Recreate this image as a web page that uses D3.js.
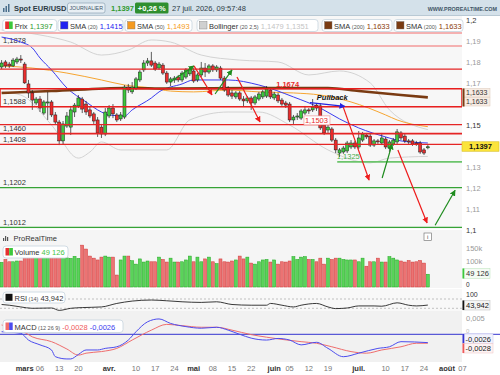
<!DOCTYPE html>
<html>
<head>
<meta charset="utf-8">
<script src="https://cdn.jsdelivr.net/npm/d3@7"></script>
<style>
  body { margin: 0; background: #fff; }
  svg { display: block; font-family: "Liberation Sans", Arial, sans-serif; }
</style>
</head>
<body>
<svg id="chart" width="500" height="375"></svg>
<script>
// ---------- data (daily EUR/USD, first bar = 20 Feb 2026) ----------
const firstDay = "2026-02-20";

const opens = [1.1778,1.1802,1.1792,1.1783,1.1802,1.1816,1.1792,1.1697,1.1654,1.1606,
  1.1625,1.1558,1.1606,1.1611,1.1549,1.1515,1.1425,1.1496,1.1491,1.1563,
  1.1592,1.1625,1.1601,1.1573,1.1554,1.1525,1.1491,1.1458,1.1544,1.1582,
  1.1549,1.1530,1.1539,1.1682,1.1659,1.1678,1.1716,1.1764,1.1797,1.1807,
  1.1797,1.1773,1.1787,1.1749,1.1706,1.1716,1.1730,1.1716,1.1730,1.1745,
  1.1759,1.1716,1.1740,1.1773,1.1754,1.1783,1.1764,1.1773,1.1725,1.1678,
  1.1654,1.1635,1.1654,1.1625,1.1616,1.1630,1.1606,1.1625,1.1635,1.1639,
  1.1668,1.1630,1.1644,1.1620,1.1606,1.1601,1.1525,1.1539,1.1534,1.1558,
  1.1573,1.1573,1.1596,1.1592,1.1501,1.1477,1.1482,1.1429,1.1367,1.1372,
  1.1377,1.1396,1.1415,1.1396,1.1429,1.1453,1.1448,1.1405,1.1425,1.1415,
  1.1434,1.1391,1.1410,1.1420,1.1463,1.1448,1.1425,1.1425,1.1415,1.1415,
  1.1382,1.1392];
const highs = [1.1811,1.1811,1.1802,1.1821,1.1826,1.1835,1.1802,1.1716,1.1668,1.1635,
  1.1639,1.1620,1.1659,1.1620,1.1563,1.1525,1.1520,1.1563,1.1592,1.1606,
  1.1644,1.1635,1.1616,1.1587,1.1563,1.1539,1.1506,1.1582,1.1596,1.1601,
  1.1558,1.1563,1.1692,1.1697,1.1706,1.1730,1.1764,1.1811,1.1821,1.1850,
  1.1807,1.1802,1.1797,1.1759,1.1730,1.1735,1.1740,1.1759,1.1773,1.1778,
  1.1773,1.1749,1.1802,1.1797,1.1792,1.1792,1.1787,1.1783,1.1735,1.1687,
  1.1668,1.1663,1.1663,1.1639,1.1639,1.1639,1.1644,1.1659,1.1668,1.1687,
  1.1678,1.1659,1.1654,1.1630,1.1616,1.1611,1.1549,1.1558,1.1577,1.1592,
  1.1582,1.1625,1.1606,1.1606,1.1515,1.1506,1.1491,1.1439,1.1391,1.1401,
  1.1425,1.1429,1.1425,1.1472,1.1468,1.1463,1.1458,1.1434,1.1434,1.1463,
  1.1444,1.1429,1.1439,1.1482,1.1472,1.1458,1.1434,1.1434,1.1425,1.1425,
  1.1391,1.1405];
const lows = [1.1768,1.1773,1.1773,1.1778,1.1792,1.1797,1.1697,1.1630,1.1573,1.1596,
  1.1563,1.1549,1.1525,1.1539,1.1501,1.1405,1.1410,1.1487,1.1453,1.1539,
  1.1582,1.1558,1.1549,1.1534,1.1506,1.1444,1.1439,1.1448,1.1534,1.1534,
  1.1515,1.1520,1.1530,1.1654,1.1649,1.1668,1.1706,1.1754,1.1783,1.1778,
  1.1759,1.1764,1.1740,1.1697,1.1687,1.1702,1.1706,1.1706,1.1721,1.1735,
  1.1702,1.1706,1.1730,1.1730,1.1745,1.1754,1.1754,1.1716,1.1659,1.1635,
  1.1625,1.1625,1.1616,1.1587,1.1606,1.1573,1.1596,1.1616,1.1625,1.1630,
  1.1625,1.1620,1.1606,1.1592,1.1582,1.1515,1.1506,1.1525,1.1525,1.1549,
  1.1554,1.1563,1.1568,1.1477,1.1453,1.1463,1.1420,1.1367,1.1348,1.1363,
  1.1367,1.1386,1.1386,1.1386,1.1420,1.1434,1.1396,1.1396,1.1410,1.1405,
  1.1386,1.1372,1.1401,1.1410,1.1429,1.1415,1.1410,1.1401,1.1401,1.1363,
  1.1358,1.1385];
const closes = [1.1797,1.1783,1.1783,1.1811,1.1816,1.1811,1.1702,1.1654,1.1620,1.1625,
  1.1582,1.1611,1.1611,1.1549,1.1515,1.1425,1.1506,1.1544,1.1573,1.1596,
  1.1630,1.1577,1.1563,1.1544,1.1520,1.1463,1.1458,1.1563,1.1582,1.1554,
  1.1525,1.1549,1.1682,1.1668,1.1682,1.1721,1.1754,1.1797,1.1807,1.1787,
  1.1768,1.1792,1.1749,1.1706,1.1721,1.1725,1.1716,1.1749,1.1764,1.1764,
  1.1711,1.1740,1.1773,1.1754,1.1783,1.1764,1.1778,1.1725,1.1668,1.1644,
  1.1639,1.1654,1.1625,1.1616,1.1630,1.1606,1.1635,1.1649,1.1659,1.1673,
  1.1635,1.1649,1.1616,1.1601,1.1596,1.1525,1.1539,1.1544,1.1568,1.1573,
  1.1568,1.1587,1.1582,1.1487,1.1463,1.1491,1.1429,1.1382,1.1382,1.1391,
  1.1415,1.1415,1.1396,1.1439,1.1458,1.1444,1.1405,1.1425,1.1420,1.1439,
  1.1396,1.1420,1.1429,1.1468,1.1439,1.1425,1.1420,1.1410,1.1410,1.1372,
  1.1367,1.1397];
const volumes = [95000,106000,97000,97000,100000,100000,135000,125000,130000,120000,
  125000,130000,120000,125000,130000,140000,128000,112000,110000,118000,
  110000,161000,146000,119000,111000,104000,115000,119000,115000,115000,
  46000,104000,119000,119000,101000,88000,108000,96000,100000,97000,
  97000,115000,106000,96000,111000,96000,96000,97000,104000,119000,
  97000,115000,97000,108000,115000,97000,90000,108000,97000,96000,
  100000,104000,119000,108000,115000,92000,88000,97000,104000,106000,
  96000,104000,88000,97000,96000,100000,117000,106000,115000,117000,
  106000,106000,97000,111000,88000,111000,106000,111000,111000,106000,
  104000,104000,104000,97000,111000,80000,97000,97000,111000,96000,
  96000,117000,111000,104000,100000,96000,102000,96000,97000,102000,
  92000,49126];

// indicator curves: [bar index, value]
const sma20 = [[0,1.1921],[5,1.1897],[8,1.1869],[10,1.1821],[13,1.1764],[17,1.1678],[22,1.1611],
  [26,1.1563],[28,1.1549],[32,1.1544],[34,1.1573],[39,1.1630],[41,1.1659],[47,1.1697],[50,1.1716],
  [59,1.1716],[67,1.1692],[76,1.1635],[83,1.1582],[88,1.1530],[93,1.1487],[100,1.1444],[104,1.1425],[111,1.1415]];
const sma50 = [[0,1.1783],[8,1.1773],[17,1.1749],[26,1.1716],[32,1.1692],[39,1.1678],[44,1.1663],
  [50,1.1659],[59,1.1668],[67,1.1659],[76,1.1654],[83,1.1644],[91,1.1611],[100,1.1549],[103,1.1525],[111,1.1493]];
const sma200 = [[0,1.1654],[13,1.1663],[32,1.1678],[44,1.1675],[65,1.1678],[85,1.1678],[93,1.1663],[104,1.1644],[111,1.1633]];
const bollUp = [[0,1.1955],[10,1.1931],[18,1.1897],[26,1.1835],[33,1.1859],[39,1.1907],[44,1.1897],
  [52,1.1835],[62,1.1811],[72,1.1802],[80,1.1740],[88,1.1759],[96,1.1702],[101,1.1573],[111,1.1479]];
const bollLo = [[0,1.1659],[5,1.1644],[13,1.1501],[20,1.1343],[23,1.1372],[26,1.1420],[31,1.1382],
  [43,1.1382],[49,1.1525],[59,1.1563],[67,1.1563],[75,1.1501],[85,1.1382],[96,1.1320],[101,1.1343],[111,1.1351]];
const rsi = [[0,46.4],[2,43.3],[5,35.8],[8,30],[13,31.3],[15,21.1],[18,30],[21,33.1],[26,35.8],[30,50.9],
  [34,61.1],[39,65.6],[43,62.4],[47,58],[52,55.3],[56,58],[60,46.4],[65,43.3],[69,43.3],[70,50.9],[73,43.3],
  [76,35.8],[78,43.3],[82,50.9],[85,35.8],[87,28.7],[90,31.3],[93,40.2],[97,40.2],[99,38.9],[103,53.6],
  [106,43.3],[108,40.2],[111,43.9]];
const macd = [[0,0.0008],[5,0.0003],[7,-0.0018],[10,-0.0033],[13,-0.0049],[14,-0.0070],[17,-0.0077],
  [18,-0.0077],[20,-0.0063],[22,-0.0049],[25,-0.0049],[27,-0.0044],[30,-0.0039],[33,-0.0018],[35,0.0008],
  [38,0.0039],[41,0.0048],[44,0.0034],[48,0.0024],[52,0.0019],[56,0.0022],[59,0.0013],[62,0.0],
  [65,-0.0012],[69,-0.0018],[72,-0.0013],[75,-0.0018],[78,-0.0033],[82,-0.0025],[85,-0.0044],
  [89,-0.0070],[93,-0.0059],[98,-0.0044],[101,-0.0039],[104,-0.0023],[111,-0.0026]];
const macdSignal = [[0,0.0029],[5,0.0013],[8,-0.0008],[13,-0.0023],[17,-0.0046],[20,-0.0065],[22,-0.0059],
  [26,-0.0054],[30,-0.0044],[34,-0.0018],[39,0.0013],[43,0.0031],[47,0.0027],[52,0.0022],[56,0.0022],
  [60,0.0013],[65,-0.0001],[69,-0.0009],[73,-0.0016],[78,-0.0023],[82,-0.0028],[86,-0.0039],
  [91,-0.0054],[95,-0.0059],[99,-0.0049],[104,-0.0039],[108,-0.0028],[111,-0.0028]];

// drawn levels and annotations
const resistLevels = [1.1940, 1.1878, 1.1768, 1.1503, 1.1460, 1.1408];
const supportLevels = [1.1202, 1.1012];
const zoneTop = 1.1674, zoneBottom = 1.1588;
const leftLabels = [1.1878, 1.1588, 1.1460, 1.1408, 1.1202, 1.1012];
const upArrows = [[43.9,1.1706,50.1,1.1783],[55.6,1.1649,60.0,1.1764],[99.1,1.1248,101.7,1.1410],[112.9,1.1022,118.1,1.1189]];
const downArrows = [[50.1,1.1783,54.8,1.1644],[61.3,1.1730,67.3,1.1515],[88.9,1.1590,95.7,1.1238],[103.2,1.1382,110.8,1.1033]];
const pullbackArrow = [80.3,1.1608,89.4,1.1590];

// 1,16 and 1,14 sit under the value boxes, so they are not listed
const priceTicks = [1.2,1.19,1.18,1.17,1.15,1.13,1.12,1.11,1.1];
const tickDates = ["2026-03-02","2026-03-06","2026-03-13","2026-03-20","2026-04-01","2026-04-10","2026-04-17",
  "2026-04-24","2026-05-01","2026-05-08","2026-05-15","2026-05-22","2026-06-01","2026-06-05","2026-06-12",
  "2026-06-19","2026-07-01","2026-07-10","2026-07-17","2026-07-24","2026-08-03","2026-08-07"];
const tickLabels = ["mars","06","13","20","avr.","10","17","24","mai","08","15","22","juin","05","12","19",
  "juil.","10","17","24","août","07"];

// ---------- setup ----------
const svg = d3.select("#chart");
const plotR = 462;
const fmt = v => v.toFixed(4).replace(".", ",");

// trading days (weekdays) used as the category axis
const days = [];
for (let d = new Date(firstDay + "T00:00:00Z"); days.length <= 120; d.setUTCDate(d.getUTCDate() + 1)) {
  const wd = d.getUTCDay();
  if (wd !== 0 && wd !== 6) days.push(d.toISOString().slice(0, 10));
}

const x = d3.scaleLinear().domain([0, 120]).range([1.6, 462.4]);
const yP = d3.scaleLinear().domain([1.1, 1.2]).range([229.9, 20.5]);
const yV = d3.scaleLinear().domain([0, 100000]).range([287, 261]);
const yR = d3.scaleLinear().domain([30, 70]).range([308.3, 299]);
const yM = d3.scaleLinear().domain([0, 0.005]).range([334.3, 318.3]);

const defs = svg.append("defs");
defs.append("clipPath").attr("id", "clipP").append("rect").attr("x", 0).attr("y", 15).attr("width", plotR).attr("height", 214);
defs.append("clipPath").attr("id", "clipV").append("rect").attr("x", 0).attr("y", 229).attr("width", plotR).attr("height", 59);
defs.append("clipPath").attr("id", "clipI").append("rect").attr("x", 0).attr("y", 288).attr("width", plotR).attr("height", 74);
["red", "green", "blue"].forEach(c => {
  defs.append("marker").attr("id", "head-" + c).attr("viewBox", "0 0 10 10")
    .attr("refX", 9).attr("refY", 5).attr("markerWidth", 6).attr("markerHeight", 6)
    .attr("markerUnits", "userSpaceOnUse").attr("orient", "auto")
    .append("path").attr("d", "M0,0L10,5L0,10z")
    .attr("fill", c === "red" ? "#ee1c1c" : c === "green" ? "#1e8c1e" : "#2424e0");
});

// backgrounds
svg.append("rect").attr("width", 500).attr("height", 375).attr("fill", "#fff");
svg.append("rect").attr("x", 0).attr("y", 15).attr("width", plotR).attr("height", 214).attr("fill", "#f7f7f7");
svg.append("rect").attr("x", 0).attr("y", 230).attr("width", plotR).attr("height", 58).attr("fill", "#f5f5f5");
svg.append("rect").attr("x", 0).attr("y", 289).attr("width", plotR).attr("height", 22).attr("fill", "#f8f8f8");
svg.append("rect").attr("x", 0).attr("y", 311).attr("width", plotR).attr("height", 51).attr("fill", "#f1f1f1");

// ---------- header ----------
svg.append("rect").attr("width", 500).attr("height", 15).attr("fill", "#d4e1ea");
svg.append("line").attr("x1", 0).attr("x2", 500).attr("y1", 15.5).attr("y2", 15.5).attr("stroke", "#b9c9d4");
[[3, 8, 4], [5.5, 6, 6], [8, 4, 8]].forEach(([bx, by, bh]) =>
  svg.append("rect").attr("x", bx).attr("y", by).attr("width", 1.5).attr("height", bh).attr("fill", "#4a6f8c"));
svg.append("text").attr("x", 14).attr("y", 11).attr("font-size", 7.5).attr("font-weight", "bold").attr("fill", "#2b3a44").text("Spot EUR/USD");
svg.append("rect").attr("x", 67.5).attr("y", 3).attr("width", 37.5).attr("height", 10).attr("rx", 2)
  .attr("fill", "#e8eff4").attr("stroke", "#8ea5b4").attr("stroke-width", 0.7);
svg.append("text").attr("x", 86.2).attr("y", 10.3).attr("text-anchor", "middle").attr("font-size", 5.3).attr("fill", "#3e5566").text("JOURNALIER");
svg.append("text").attr("x", 111).attr("y", 11).attr("font-size", 7.5).attr("font-weight", "bold").attr("fill", "#2f9a2f").text(fmt(closes[closes.length - 1]));
svg.append("rect").attr("x", 135).attr("y", 2.5).attr("width", 33.5).attr("height", 11).attr("rx", 1.5).attr("fill", "#2f8f2f");
svg.append("text").attr("x", 151.7).attr("y", 11).attr("text-anchor", "middle").attr("font-size", 7.5).attr("font-weight", "bold").attr("fill", "#fff").text("+0,26 %");
svg.append("text").attr("x", 172).attr("y", 11).attr("font-size", 7.5).attr("fill", "#2b3a44").text("27 juil. 2026, 09:57:48");
svg.append("text").attr("x", 497).attr("y", 11).attr("text-anchor", "end").attr("font-size", 5.4).attr("font-weight", "bold").attr("fill", "#3f5566").text("WWW.PROREALTIME.COM");

// ---------- price panel ----------
const gP = svg.append("g").attr("clip-path", "url(#clipP)");
const line = d3.line().x(d => x(d[0])).curve(d3.curveMonotoneX);

gP.append("path").datum(bollUp).attr("d", line.y(d => yP(d[1]))).attr("fill", "none").attr("stroke", "#c9c9c9").attr("stroke-width", 0.8);
gP.append("path").datum(bollLo).attr("d", line.y(d => yP(d[1]))).attr("fill", "none").attr("stroke", "#c9c9c9").attr("stroke-width", 0.8);

// left level labels sit under the candles
gP.selectAll(".lvlLabel").data(leftLabels).enter().append("text")
  .attr("x", 3).attr("y", d => yP(d) - 2.8).attr("font-size", 7.5).attr("fill", "#333").text(d => fmt(d));

gP.append("path").datum(sma50).attr("d", line.y(d => yP(d[1]))).attr("fill", "none").attr("stroke", "#f6a531").attr("stroke-width", 1);
gP.append("path").datum(sma20).attr("d", line.y(d => yP(d[1]))).attr("fill", "none").attr("stroke", "#3b3bef").attr("stroke-width", 1);
gP.append("path").datum(sma200).attr("d", line.y(d => yP(d[1]))).attr("fill", "none").attr("stroke", "#7a3b12").attr("stroke-width", 2.6);

// candles
const bars = d3.range(closes.length);
const candle = gP.selectAll(".candle").data(bars).enter().append("g");
candle.append("line").attr("x1", i => x(i)).attr("x2", i => x(i))
  .attr("y1", i => yP(highs[i])).attr("y2", i => yP(lows[i])).attr("stroke", "#1c1c1c").attr("stroke-width", 0.7);
candle.append("rect").attr("x", i => x(i) - 1.5).attr("width", 3)
  .attr("y", i => yP(Math.max(opens[i], closes[i])))
  .attr("height", i => Math.max(0.8, Math.abs(yP(opens[i]) - yP(closes[i]))))
  .attr("fill", i => closes[i] >= opens[i] ? "#3cc83c" : "#ea2e2e")
  .attr("stroke", "#1c1c1c").attr("stroke-width", 0.5);

// levels
resistLevels.forEach((v, j) => {
  const soft = j < 2;
  gP.append("line").attr("x1", 0).attr("x2", plotR).attr("y1", yP(v)).attr("y2", yP(v))
    .attr("stroke", soft ? "#f39a9a" : "#e52525").attr("stroke-width", soft ? 1.6 : (v === 1.146 ? 1.8 : 1.2));
});
supportLevels.forEach(v => {
  gP.append("line").attr("x1", 0).attr("x2", plotR).attr("y1", yP(v)).attr("y2", yP(v))
    .attr("stroke", "#36a336").attr("stroke-width", 1.2);
});
gP.append("line").attr("x1", x(87.4)).attr("x2", plotR).attr("y1", yP(1.1325)).attr("y2", yP(1.1325))
  .attr("stroke", "#6cc46c").attr("stroke-width", 1.6);
gP.append("rect").attr("x", 0).attr("y", yP(zoneTop)).attr("width", plotR).attr("height", yP(zoneBottom) - yP(zoneTop))
  .attr("fill", "none").attr("stroke", "#e81c1c").attr("stroke-width", 1.5);

// annotations
upArrows.forEach(a => gP.append("line").attr("x1", x(a[0])).attr("y1", yP(a[1])).attr("x2", x(a[2])).attr("y2", yP(a[3]))
  .attr("stroke", "#1e8c1e").attr("stroke-width", 1.2).attr("marker-end", "url(#head-green)"));
downArrows.forEach(a => gP.append("line").attr("x1", x(a[0])).attr("y1", yP(a[1])).attr("x2", x(a[2])).attr("y2", yP(a[3]))
  .attr("stroke", "#ee1c1c").attr("stroke-width", 1.2).attr("marker-end", "url(#head-red)"));
gP.append("line").attr("x1", x(pullbackArrow[0])).attr("y1", yP(pullbackArrow[1])).attr("x2", x(pullbackArrow[2])).attr("y2", yP(pullbackArrow[3]))
  .attr("stroke", "#2424e0").attr("stroke-width", 1.2).attr("marker-end", "url(#head-blue)");

gP.append("text").attr("x", x(71.5)).attr("y", yP(1.1681)).attr("font-size", 7.5).attr("font-weight", "bold").attr("fill", "#e82a2a").text(fmt(zoneTop));
gP.append("rect").attr("x", x(79) - 1).attr("y", yP(1.1511) - 7).attr("width", 26).attr("height", 9)
  .attr("fill", "#fff").attr("stroke", "#f08c8c").attr("stroke-width", 0.6);
gP.append("text").attr("x", x(79)).attr("y", yP(1.1511)).attr("font-size", 7.5).attr("fill", "#e82a2a").text(fmt(1.1503));
gP.append("text").attr("x", x(87.3)).attr("y", yP(1.1338)).attr("font-size", 7.5).attr("fill", "#4caf4c").text(fmt(1.1325));
gP.append("text").attr("x", x(82.1)).attr("y", yP(1.1620)).attr("font-size", 7.5).attr("font-style", "italic").attr("font-weight", "bold").attr("fill", "#111").text("Pullback");

// legend row
function legendBox(x0, w, icon, parts) {
  svg.append("rect").attr("x", x0).attr("y", 19.5).attr("width", w).attr("height", 12).attr("rx", 3)
    .attr("fill", "#fff").attr("stroke", "#c6d4de").attr("stroke-width", 0.8);
  icon(x0 + 2.5);
  let t = svg.append("text").attr("x", x0 + 12).attr("y", 28.5).attr("font-size", 7.5);
  parts.forEach(p => t.append("tspan").attr("fill", p[1]).attr("font-size", p[2] || 7.5).text(p[0]));
}
const sq = c => px => svg.append("rect").attr("x", px).attr("y", 21.5).attr("width", 7.5).attr("height", 7.5).attr("fill", c).attr("stroke", "#777").attr("stroke-width", 0.4);
legendBox(2.7, 54, px => {
  svg.append("rect").attr("x", px).attr("y", 21.5).attr("width", 3.8).attr("height", 7.5).attr("fill", "#e53030");
  svg.append("rect").attr("x", px + 3.8).attr("y", 21.5).attr("width", 3.7).attr("height", 7.5).attr("fill", "#3cc83c");
}, [["Prix", "#333"], [" " + fmt(closes[closes.length - 1]), "#2f9a2f"]]);
legendBox(58, 65, sq("#2323f0"), [["SMA", "#333"], [" (20)", "#555", 5.5], [" 1,1415", "#2323f0"]]);
legendBox(125, 67, sq("#f59a20"), [["SMA", "#333"], [" (50)", "#555", 5.5], [" 1,1493", "#f59a20"]]);
legendBox(197, 121, sq("#d0d0d0"), [["Bollinger", "#333"], [" (20 2,5)", "#555", 5.5], [" 1,1479", "#c4c4c4"], [" 1,1351", "#c4c4c4"]]);
legendBox(322, 70, sq("#7a3b12"), [["SMA", "#333"], [" (200)", "#555", 5.5], [" 1,1633", "#8a3c0c"]]);
legendBox(394, 69, sq("#7a3b12"), [["SMA", "#333"], [" (200)", "#555", 5.5], [" 1,1633", "#8a3c0c"]]);

// price axis
svg.selectAll(".ptick").data(priceTicks).enter().append("text")
  .attr("x", 466).attr("y", d => yP(d) + 2.6).attr("font-size", 7.5)
  .attr("fill", d => [1.2, 1.15, 1.1].includes(d) ? "#333" : "#999")
  .text(d => d3.format(".2~f")(d).replace(".", ","));
svg.append("rect").attr("x", 463).attr("y", 88.5).attr("width", 27).attr("height", 8.5).attr("fill", "#f7ece3").attr("stroke", "#dcc8b8").attr("stroke-width", 0.5);
svg.append("rect").attr("x", 463).attr("y", 97.5).attr("width", 27).attr("height", 8.5).attr("fill", "#f7ece3").attr("stroke", "#dcc8b8").attr("stroke-width", 0.5);
svg.append("rect").attr("x", 462.5).attr("y", 88.5).attr("width", 2).attr("height", 18).attr("fill", "#7a3b12");
svg.append("text").attr("x", 466).attr("y", 95.3).attr("font-size", 7).attr("fill", "#333").text(fmt(1.1633));
svg.append("text").attr("x", 466).attr("y", 104.3).attr("font-size", 7).attr("fill", "#333").text(fmt(1.1633));
const lastY = yP(closes[closes.length - 1]);
svg.append("rect").attr("x", 462).attr("y", lastY - 5).attr("width", 37).attr("height", 9.5).attr("fill", "#fbe43b").attr("stroke", "#d6c02a").attr("stroke-width", 0.6);
svg.append("text").attr("x", 480.5).attr("y", lastY + 2.6).attr("text-anchor", "middle").attr("font-size", 7.5).attr("font-weight", "bold").attr("fill", "#111").text(fmt(closes[closes.length - 1]));

// ---------- volume panel ----------
const gV = svg.append("g").attr("clip-path", "url(#clipV)");
gV.selectAll(".vol").data(bars).enter().append("rect")
  .attr("x", i => x(i) - 1.5).attr("width", 3)
  .attr("y", i => yV(volumes[i])).attr("height", i => yV(0) - yV(volumes[i]))
  .attr("fill", i => closes[i] >= opens[i] ? "#5ad35a" : "#ec7373")
  .attr("stroke", i => closes[i] >= opens[i] ? "#20a820" : "#d03a3a").attr("stroke-width", 0.5);
[[3, 238, 3], [5, 236, 5], [7, 237, 4]].forEach(([bx, by, bh]) =>
  svg.append("rect").attr("x", bx).attr("y", by).attr("width", 1.2).attr("height", bh).attr("fill", "#555"));
svg.append("text").attr("x", 13.5).attr("y", 241).attr("font-size", 7.5).attr("fill", "#333").text("ProRealTime");
svg.append("rect").attr("x", 3).attr("y", 246).attr("width", 65).attr("height", 12).attr("rx", 3).attr("fill", "#fff").attr("stroke", "#c6d4de").attr("stroke-width", 0.8);
svg.append("rect").attr("x", 5.5).attr("y", 248).attr("width", 3.7).attr("height", 7.5).attr("fill", "#e53030");
svg.append("rect").attr("x", 9.2).attr("y", 248).attr("width", 3.7).attr("height", 7.5).attr("fill", "#3cc83c");
svg.append("text").attr("x", 14.5).attr("y", 255).attr("font-size", 7.5).attr("fill", "#333").text("Volume")
  .append("tspan").attr("fill", "#44c444").text(" " + d3.format(",")(volumes[volumes.length - 1]).replace(",", " "));
svg.append("rect").attr("x", 424).attr("y", 233).attr("width", 7.5).attr("height", 7.5).attr("fill", "#fff").attr("stroke", "#666").attr("stroke-width", 0.6);
svg.append("text").attr("x", 427.75).attr("y", 239.3).attr("text-anchor", "middle").attr("font-size", 6).attr("fill", "#444").text("i");
svg.append("text").attr("x", 466).attr("y", yV(150000) + 2.6).attr("font-size", 7.5).attr("fill", "#999").text("150k");
svg.append("text").attr("x", 466).attr("y", yV(100000) + 2.6).attr("font-size", 7.5).attr("fill", "#999").text("100k");
svg.append("text").attr("x", 466).attr("y", yV(0)).attr("font-size", 6.5).attr("fill", "#333").text("0");
svg.append("rect").attr("x", 463).attr("y", 268.5).attr("width", 27).attr("height", 10).attr("fill", "#f4fbf4").attr("stroke", "#b8e2b8").attr("stroke-width", 0.5);
svg.append("rect").attr("x", 462.5).attr("y", 268.5).attr("width", 1.8).attr("height", 10).attr("fill", "#3cc83c");
svg.append("text").attr("x", 466).attr("y", 276.3).attr("font-size", 7.5).attr("fill", "#333").text("49 126");

// ---------- RSI panel ----------
const gI = svg.append("g").attr("clip-path", "url(#clipI)");
[70, 30].forEach(v => gI.append("line").attr("x1", 0).attr("x2", plotR).attr("y1", yR(v)).attr("y2", yR(v))
  .attr("stroke", "#aaa").attr("stroke-width", 0.7).attr("stroke-dasharray", "2,2"));
gI.append("path").datum(rsi).attr("d", line.y(d => yR(d[1]))).attr("fill", "none").attr("stroke", "#222").attr("stroke-width", 0.9);
svg.append("rect").attr("x", 3).attr("y", 292).attr("width", 62).attr("height", 11).attr("rx", 3).attr("fill", "#fff").attr("stroke", "#c6d4de").attr("stroke-width", 0.8);
svg.append("rect").attr("x", 5.5).attr("y", 293.8).attr("width", 7).attr("height", 7).attr("fill", "#111");
const rsiT = svg.append("text").attr("x", 14.5).attr("y", 300.6).attr("font-size", 7.5);
rsiT.append("tspan").attr("fill", "#333").text("RSI");
rsiT.append("tspan").attr("fill", "#555").attr("font-size", 5.5).text(" (14)");
rsiT.append("tspan").attr("fill", "#333").text(" 43,942");
svg.append("text").attr("x", 466).attr("y", 297).attr("font-size", 7).attr("fill", "#333").text("100");
svg.append("rect").attr("x", 463).attr("y", 300.5).attr("width", 27).attr("height", 9.5).attr("fill", "#f4f4f4").attr("stroke", "#bbb").attr("stroke-width", 0.5);
svg.append("rect").attr("x", 462.5).attr("y", 300.5).attr("width", 1.8).attr("height", 9.5).attr("fill", "#111");
svg.append("text").attr("x", 466).attr("y", 308).attr("font-size", 7.5).attr("fill", "#111").text("43,942");

// ---------- MACD panel ----------
gI.append("line").attr("x1", 0).attr("x2", plotR).attr("y1", yM(0)).attr("y2", yM(0)).attr("stroke", "#3434d0").attr("stroke-width", 1);
svg.append("line").attr("x1", plotR).attr("x2", 500).attr("y1", yM(0)).attr("y2", yM(0)).attr("stroke", "#3434d0").attr("stroke-width", 1);
gI.append("path").datum(macdSignal).attr("d", line.y(d => yM(d[1]))).attr("fill", "none").attr("stroke", "#ef6d6d").attr("stroke-width", 1);
gI.append("path").datum(macd).attr("d", line.y(d => yM(d[1]))).attr("fill", "none").attr("stroke", "#4c4cee").attr("stroke-width", 1);
svg.append("rect").attr("x", 3).attr("y", 320).attr("width", 120).attr("height", 12.5).attr("rx", 3).attr("fill", "#fff").attr("stroke", "#c6d4de").attr("stroke-width", 0.8);
svg.append("rect").attr("x", 5.5).attr("y", 322.5).attr("width", 3.6).attr("height", 7.5).attr("fill", "#ef6d6d");
svg.append("rect").attr("x", 9.1).attr("y", 322.5).attr("width", 3.6).attr("height", 7.5).attr("fill", "#4c4cee");
const macdT = svg.append("text").attr("x", 14.5).attr("y", 329.5).attr("font-size", 7.5);
macdT.append("tspan").attr("fill", "#333").text("MACD");
macdT.append("tspan").attr("fill", "#555").attr("font-size", 5.5).text(" (12 26 9)");
macdT.append("tspan").attr("fill", "#ef5a5a").text(" -0,0028");
macdT.append("tspan").attr("fill", "#3c3cee").text("  -0,0026");
svg.append("text").attr("x", 466).attr("y", yM(0.005) + 2.6).attr("font-size", 7.5).attr("fill", "#999").text("0,005");
svg.append("text").attr("x", 466).attr("y", yM(0) - 1).attr("font-size", 6).attr("fill", "#bbb").text("0");
svg.append("rect").attr("x", 463).attr("y", 334).attr("width", 30).attr("height", 9.5).attr("fill", "#f3f3fd").attr("stroke", "#c4c4ee").attr("stroke-width", 0.5);
svg.append("rect").attr("x", 462.5).attr("y", 334).attr("width", 1.8).attr("height", 9.5).attr("fill", "#3434d0");
svg.append("text").attr("x", 465.5).attr("y", 341.5).attr("font-size", 7.5).attr("fill", "#222").text("-0,0026");
svg.append("rect").attr("x", 463).attr("y", 343.5).attr("width", 30).attr("height", 9.5).attr("fill", "#fdf3f3").attr("stroke", "#eec4c4").attr("stroke-width", 0.5);
svg.append("rect").attr("x", 462.5).attr("y", 343.5).attr("width", 1.8).attr("height", 9.5).attr("fill", "#ef5a5a");
svg.append("text").attr("x", 465.5).attr("y", 351).attr("font-size", 7.5).attr("fill", "#222").text("-0,0028");

// ---------- date axis ----------
svg.selectAll(".dtick").data(tickDates).enter().append("text")
  .attr("x", d => x(days.indexOf(d))).attr("y", 371).attr("text-anchor", "middle").attr("font-size", 7.5)
  .attr("font-weight", (d, j) => isNaN(+tickLabels[j]) ? "bold" : "normal")
  .attr("fill", (d, j) => isNaN(+tickLabels[j]) ? "#333" : "#777")
  .text((d, j) => tickLabels[j]);
</script>
</body>
</html>
